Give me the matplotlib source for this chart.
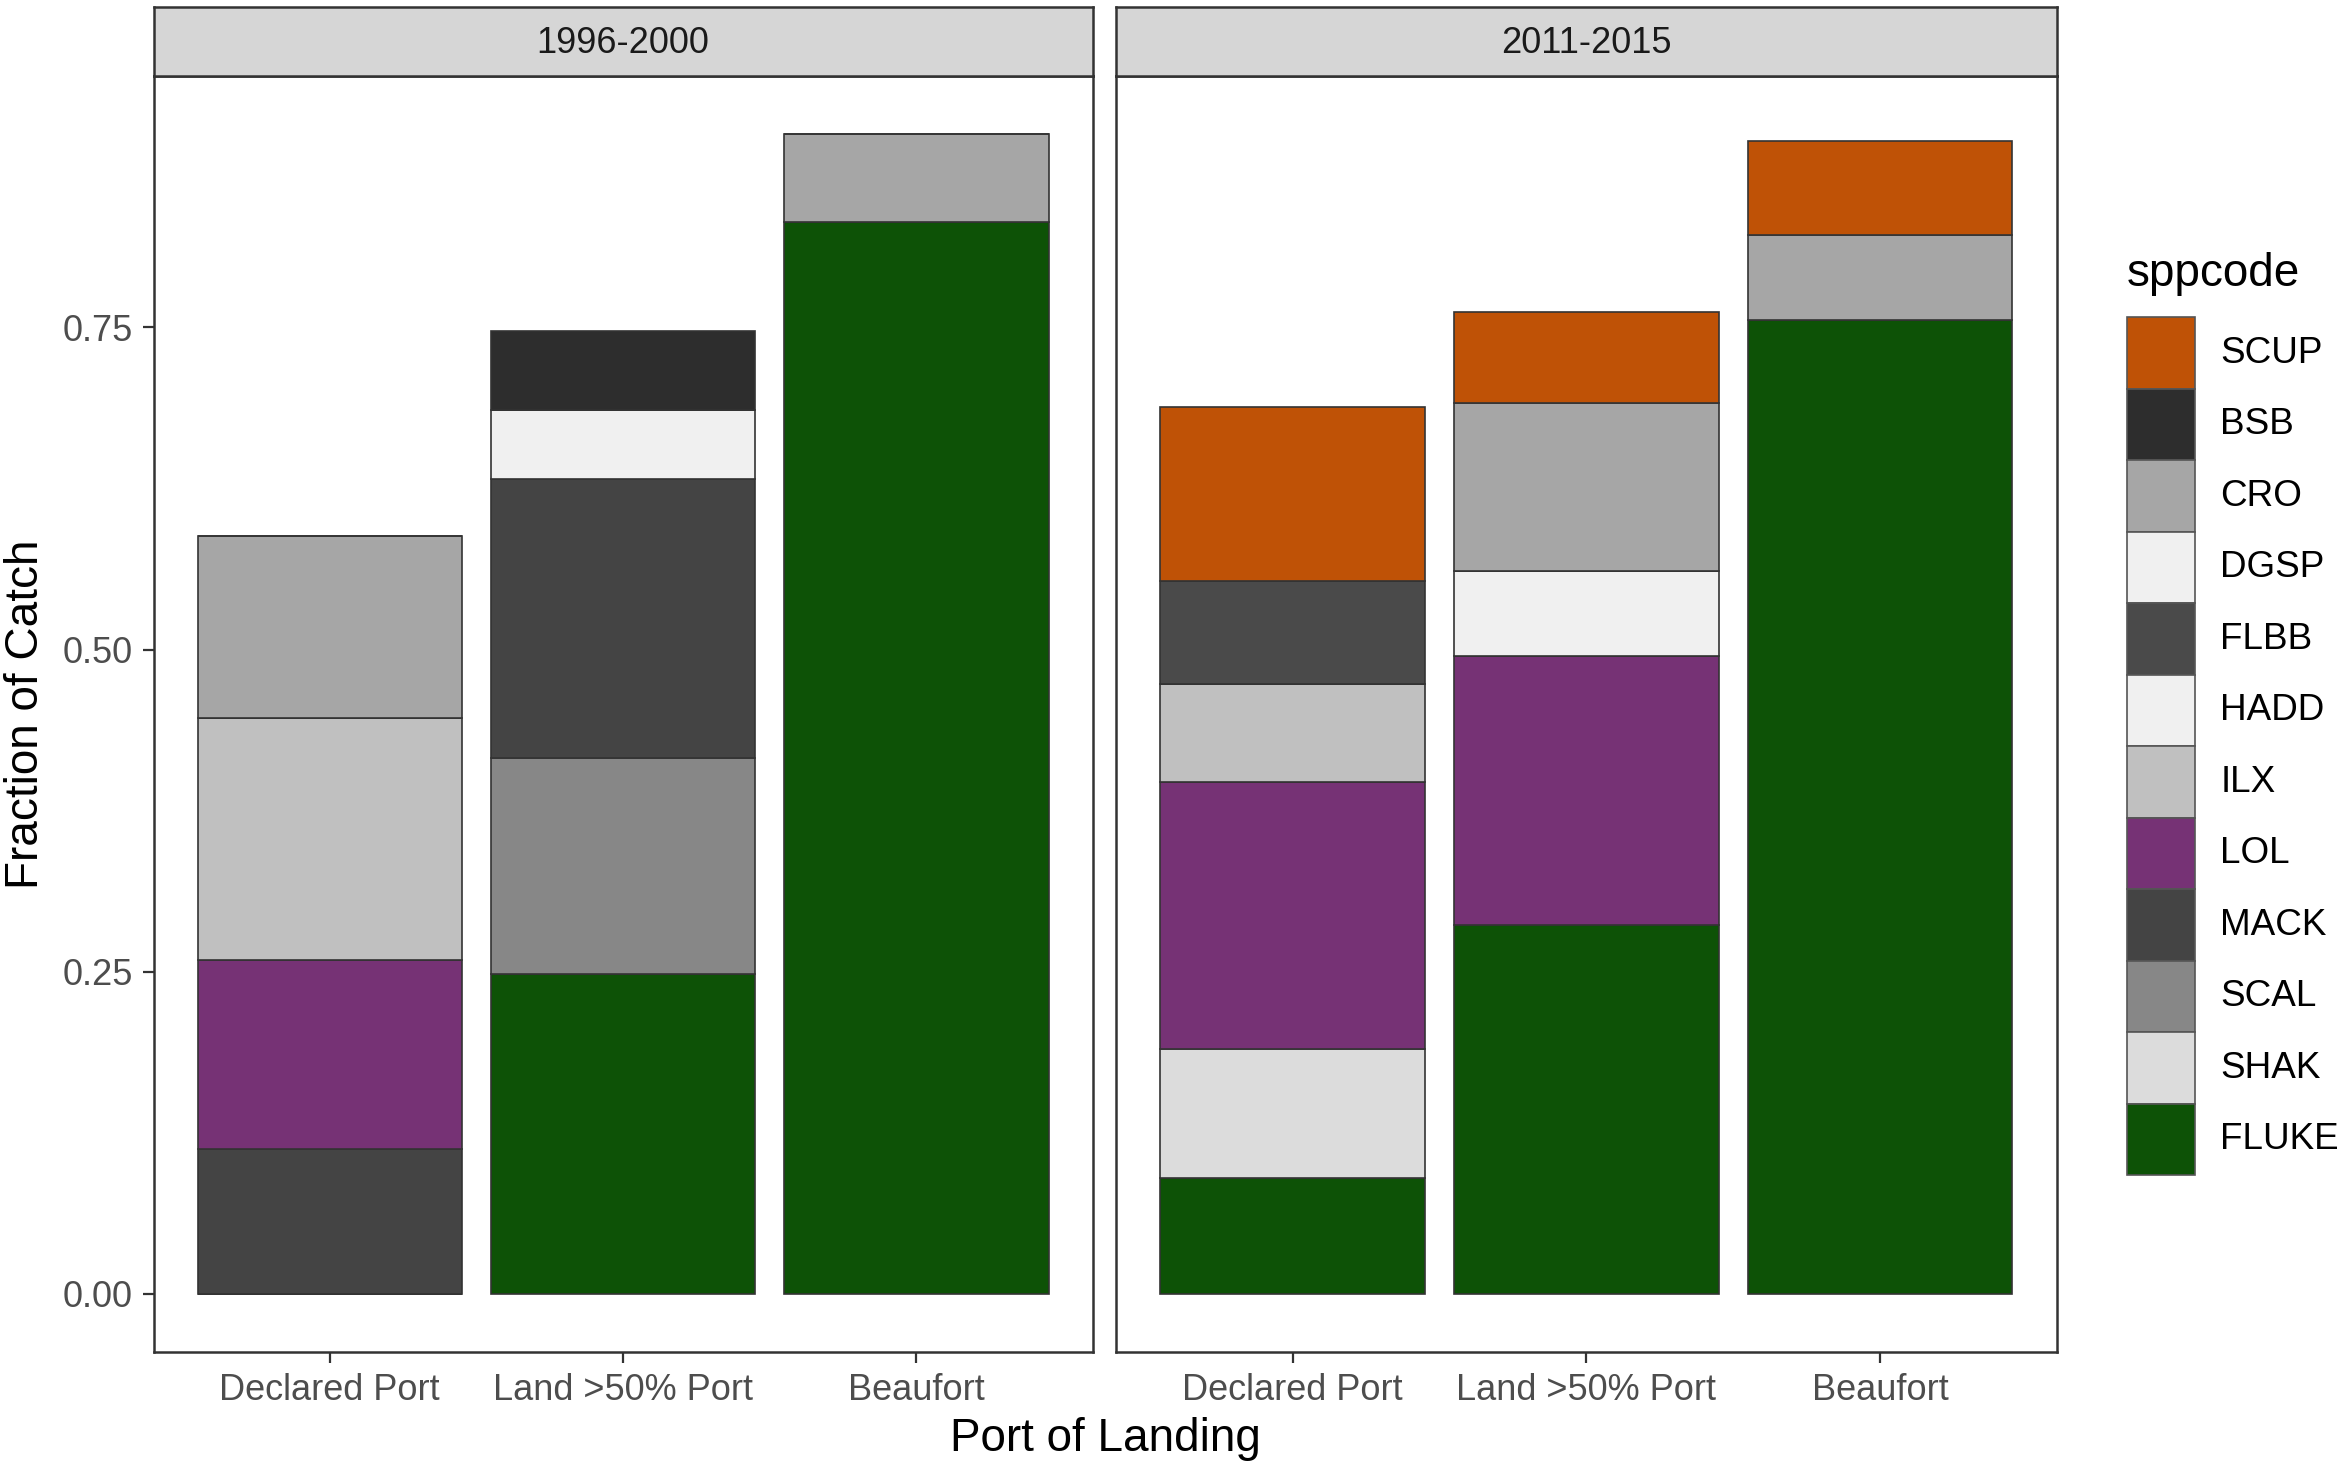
import numpy as np
import matplotlib
matplotlib.use('Agg')
import matplotlib.pyplot as plt
from matplotlib.patches import Rectangle

plt.rcParams['font.family'] = ['Liberation Sans', 'DejaVu Sans']

ports = ['Declared Port', 'Land >50% Port', 'Beaufort']
periods = ['1996-2000', '2011-2015']

# legend order (top of stack first)
legend_order = ['SCUP', 'BSB', 'CRO', 'DGSP', 'FLBB', 'HADD', 'ILX', 'LOL',
                'MACK', 'SCAL', 'SHAK', 'FLUKE']
colors = {'SCUP': '#bf5206', 'BSB': '#2d2d2d', 'CRO': '#a6a6a6',
          'DGSP': '#f0f0f0', 'FLBB': '#4a4a4a', 'HADD': '#f0f0f0',
          'ILX': '#c0c0c0', 'LOL': '#763275', 'MACK': '#444444',
          'SCAL': '#878787', 'SHAK': '#dcdcdc', 'FLUKE': '#0d5206'}

# fraction of catch by species, per port (Declared, Land >50%, Beaufort)
catch_9600 = {
    'FLUKE': [0.000, 0.248, 0.832],
    'SCAL':  [0.000, 0.168, 0.000],
    'MACK':  [0.112, 0.216, 0.000],
    'LOL':   [0.147, 0.000, 0.000],
    'ILX':   [0.188, 0.000, 0.000],
    'HADD':  [0.000, 0.054, 0.000],
    'CRO':   [0.141, 0.000, 0.068],
    'BSB':   [0.000, 0.061, 0.000],
}
catch_1115 = {
    'FLUKE': [0.090, 0.286, 0.756],
    'SHAK':  [0.100, 0.000, 0.000],
    'LOL':   [0.207, 0.209, 0.000],
    'ILX':   [0.076, 0.000, 0.000],
    'HADD':  [0.000, 0.066, 0.000],
    'FLBB':  [0.080, 0.000, 0.000],
    'CRO':   [0.000, 0.130, 0.066],
    'SCUP':  [0.135, 0.071, 0.073],
}

fig = plt.figure(figsize=(11.685, 7.325), dpi=200)
panel_x = [(0.0657, 0.4675), (0.4777, 0.880)]
ax_bottom, ax_top, strip_top = 0.0773, 0.948, 0.995
edge = '#333333'

x = np.arange(1, 4)
for i, (data, period) in enumerate(zip([catch_9600, catch_1115], periods)):
    x0, x1 = panel_x[i]
    ax = fig.add_axes([x0, ax_bottom, x1 - x0, ax_top - ax_bottom])
    bottom = np.zeros(3)
    for sp in reversed(legend_order):
        if sp not in data:
            continue
        vals = np.array(data[sp])
        ax.bar(x, vals, width=0.9, bottom=bottom, color=colors[sp],
               edgecolor=edge, linewidth=0.6)
        bottom += vals
    ax.set_xlim(0.4, 3.6)
    ax.set_ylim(-0.045, 0.945)
    ax.set_xticks(x)
    ax.set_xticklabels(ports, fontsize=13)
    ax.set_yticks([0, 0.25, 0.5, 0.75])
    ax.tick_params(colors='#333333', labelcolor='#4d4d4d', width=0.8, length=4)
    if i == 0:
        ax.set_yticklabels(['0.00', '0.25', '0.50', '0.75'], fontsize=13)
        ax.set_ylabel('Fraction of Catch', fontsize=16.5, labelpad=5)
    else:
        ax.tick_params(axis='y', length=0, labelleft=False)
    for s in ax.spines.values():
        s.set_color(edge)
        s.set_linewidth(0.9)
    # facet strip
    sax = fig.add_axes([x0, ax_top, x1 - x0, strip_top - ax_top])
    sax.set_facecolor('#d6d6d6')
    sax.set_xticks([])
    sax.set_yticks([])
    for s in sax.spines.values():
        s.set_color(edge)
        s.set_linewidth(0.9)
    sax.text(0.5, 0.48, period, ha='center', va='center', fontsize=13,
             color='#1a1a1a', transform=sax.transAxes)

fig.text((panel_x[0][0] + panel_x[1][1]) / 2, 0.003, 'Port of Landing',
         ha='center', va='bottom', fontsize=16.5)

# legend
fig.text(0.910, 0.813, 'sppcode', ha='left', va='center', fontsize=16.5)
key_w, key_h = 0.0293, 0.0488
key_top = 1 - 213 / 983
for k, sp in enumerate(legend_order):
    y = key_top - (k + 1) * key_h
    fig.add_artist(Rectangle((0.910, y), key_w, key_h, transform=fig.transFigure,
                             facecolor=colors[sp], edgecolor='#555555', linewidth=0.6))
    fig.text(0.950, y + key_h / 2, sp, ha='left', va='center', fontsize=13.3)

fig.savefig('out.png', dpi=200, facecolor='white')
